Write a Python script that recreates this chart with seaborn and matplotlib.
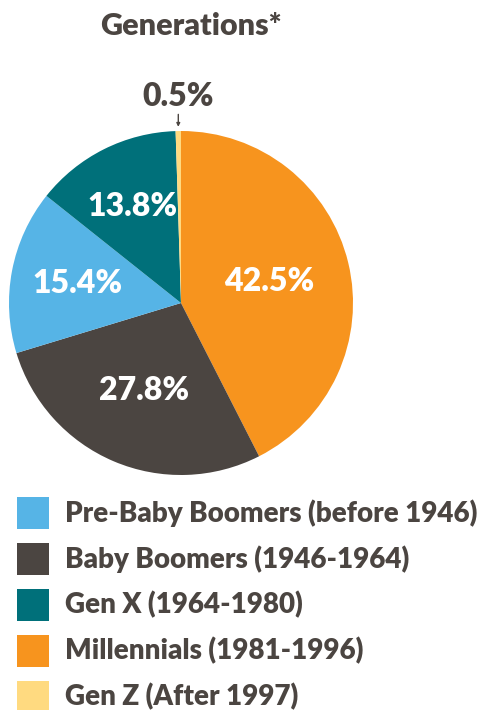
import numpy as np
import matplotlib.pyplot as plt
import matplotlib.patches as mpatches
import seaborn as sns

# dados do gráfico
geracoes = ['Pre-Baby Boomers (before 1946)', 'Baby Boomers (1946-1964)',
            'Gen X (1964-1980)', 'Millennials (1981-1996)', 'Gen Z (After 1997)']
percentuais = [15.4, 27.8, 13.8, 42.5, 0.5]
cores = ['#56B4E6', '#4B4541', '#00707A', '#F7941E', '#FFDA80']

# ordem das fatias no sentido horário a partir do topo
ordem_pizza = [3, 1, 0, 2, 4]
dist_rotulo = {3: 0.53, 1: 0.55, 0: 0.61, 2: 0.63}

sns.set_theme(style='white')
plt.rcParams['font.family'] = ['Lato', 'DejaVu Sans']
texto_cor = '#4B4541'
W, H = 482, 710

fig = plt.figure(figsize=(W / 100, H / 100), dpi=100)
ax = fig.add_axes([9 / W, (H - 475) / H, 344 / W, 344 / H])

valores = [percentuais[i] for i in ordem_pizza]
cores_pizza = [cores[i] for i in ordem_pizza]
fatias, _ = ax.pie(valores, colors=cores_pizza, startangle=90, counterclock=False,
                   radius=1, wedgeprops=dict(linewidth=0))
ax.set_xlim(-1, 1)
ax.set_ylim(-1, 1)
ax.set_aspect('equal')
ax.axis('off')

for fatia, idx in zip(fatias, ordem_pizza):
    ang = np.deg2rad((fatia.theta1 + fatia.theta2) / 2)
    rotulo = f'{percentuais[idx]:.1f}%'
    if idx in dist_rotulo:
        d = dist_rotulo[idx]
        ax.text(d * np.cos(ang), d * np.sin(ang), rotulo, color='white',
                fontsize=23, fontweight='heavy', ha='center', va='center')
    else:
        x = np.cos(ang)
        ax.annotate(rotulo, xy=(x, 1.0), xytext=(x, 1.2), color=texto_cor,
                    fontsize=23, fontweight='heavy', ha='center', va='center',
                    annotation_clip=False,
                    arrowprops=dict(arrowstyle='-|>', color=texto_cor, lw=1,
                                    mutation_scale=5, shrinkA=14, shrinkB=3))

fig.text(191 / W, 1 - 26 / H, 'Generations*', color=texto_cor,
         fontsize=22, fontweight='heavy', ha='center', va='center')

# legenda desenhada à mão: quadrados de 32 px
for i, (nome, cor) in enumerate(zip(geracoes, cores)):
    topo = 497 + i * 46
    fig.add_artist(mpatches.Rectangle((17 / W, 1 - (topo + 32) / H), 32 / W, 32 / H,
                                      color=cor, linewidth=0, transform=fig.transFigure))
    fig.text(65 / W, 1 - (topo + 16) / H, nome, color=texto_cor, fontsize=20,
             fontweight='heavy', ha='left', va='center')

fig.savefig('out.png', dpi=100)
